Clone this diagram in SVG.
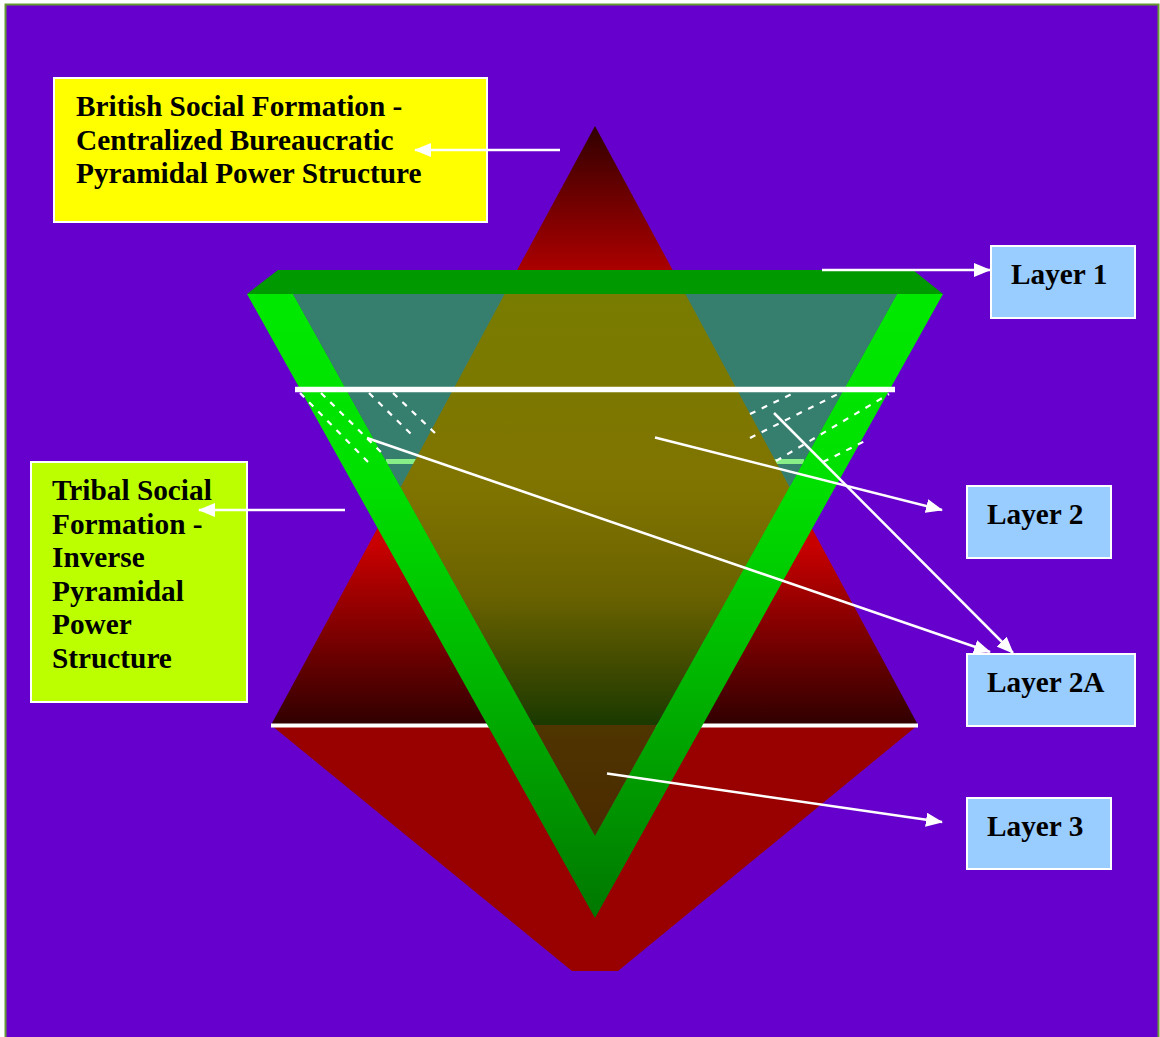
<svg xmlns="http://www.w3.org/2000/svg" width="1160" height="1037" viewBox="0 0 1160 1037">
<defs>
<style>
.lbl{font-family:"Liberation Serif","Times New Roman",serif;font-weight:bold;font-size:29.3px;fill:#000}
.box{stroke:#fff;stroke-width:2}
.layer{fill:#99CCFF}
.conn{stroke:#fff;stroke-width:2.5;fill:none}
.dash{stroke:#fff;stroke-width:2.2;stroke-dasharray:6 7;fill:none}
</style>
<marker id="ah" viewBox="0 0 17 14" refX="16" refY="7" markerWidth="17" markerHeight="14" markerUnits="userSpaceOnUse" orient="auto">
<path d="M0,0 L17,7 L0,14 z" fill="#fff"/>
</marker>
<linearGradient id="gRed" gradientUnits="userSpaceOnUse" x1="0" y1="126" x2="0" y2="725">
<stop offset="0" stop-color="#300000"/>
<stop offset="0.25" stop-color="#B00000"/>
<stop offset="0.55" stop-color="#CC0000"/>
<stop offset="0.7" stop-color="#C80000"/>
<stop offset="1" stop-color="#300000"/>
</linearGradient>
<linearGradient id="gOlive" gradientUnits="userSpaceOnUse" x1="0" y1="294" x2="0" y2="725">
<stop offset="0" stop-color="#787C00"/>
<stop offset="0.45" stop-color="#807400"/>
<stop offset="0.7" stop-color="#6A6200"/>
<stop offset="0.88" stop-color="#3C4800"/>
<stop offset="1" stop-color="#1A3A00"/>
</linearGradient>
<linearGradient id="gBrown" gradientUnits="userSpaceOnUse" x1="0" y1="725" x2="0" y2="836">
<stop offset="0" stop-color="#4F3500"/>
<stop offset="1" stop-color="#4A2A00"/>
</linearGradient>
<linearGradient id="gGreen" gradientUnits="userSpaceOnUse" x1="0" y1="294" x2="0" y2="918">
<stop offset="0" stop-color="#00E800"/>
<stop offset="0.3" stop-color="#00E000"/>
<stop offset="0.62" stop-color="#00B500"/>
<stop offset="1" stop-color="#007700"/>
</linearGradient>
</defs>
<rect x="0" y="0" width="1160" height="1037" fill="#fff"/>
<rect id="frame" x="5.5" y="4.5" width="1153" height="1040" fill="#6600CC" stroke="#669933" stroke-width="2"/>

<g id="british-pyramid">
<polygon points="595,126 271,725 918,725" fill="url(#gRed)"/>
<polygon points="271,725 918,725 618,971 572,971" fill="#990000"/>
<line x1="271" y1="725.5" x2="918" y2="725.5" stroke="#fff" stroke-width="4"/>
</g>

<g id="tribal-pyramid">
<polygon points="293,294 897,294 595,836" fill="#367E6E"/>
<line x1="386" y1="461.5" x2="804" y2="461.5" stroke="#88EE88" stroke-width="5"/>
<polygon points="504.6,294 685.4,294 789.6,487.3 657,725 533,725 400.6,487.3" fill="url(#gOlive)"/>
<polygon points="533,725 657,725 595,836" fill="url(#gBrown)"/>
<path d="M247,294 L943,294 L595,918 Z M293,294 L595,836 L897,294 Z" fill="url(#gGreen)" fill-rule="evenodd"/>
<polygon points="278,270 913,270 943,294 247,294" fill="#009900"/>
<line x1="295" y1="389.5" x2="895" y2="389.5" stroke="#fff" stroke-width="5.5"/>
<g id="dashes">
<line class="dash" x1="300" y1="393" x2="368" y2="462"/>
<line class="dash" x1="321" y1="393" x2="384" y2="455"/>
<line class="dash" x1="369" y1="393" x2="411" y2="434"/>
<line class="dash" x1="393" y1="393" x2="436" y2="434"/>
<line class="dash" x1="750" y1="414" x2="794" y2="393"/>
<line class="dash" x1="750" y1="438" x2="840" y2="393"/>
<line class="dash" x1="776" y1="461" x2="889" y2="394"/>
<line class="dash" x1="823" y1="462" x2="867" y2="440"/>
</g>
</g>

<g id="node-british">
<rect class="box" x="54" y="78" width="433" height="144" fill="#FFFF00"/>
<text class="lbl" x="76" y="116">British Social Formation -</text>
<text class="lbl" x="76" y="150">Centralized Bureaucratic</text>
<text class="lbl" x="76" y="183">Pyramidal Power Structure</text>
</g>

<g id="node-tribal">
<rect class="box" x="31" y="462" width="216" height="240" fill="#BBFF00"/>
<text class="lbl" x="52" y="500">Tribal Social</text>
<text class="lbl" x="52" y="533.5">Formation -</text>
<text class="lbl" x="52" y="567">Inverse</text>
<text class="lbl" x="52" y="600.5">Pyramidal</text>
<text class="lbl" x="52" y="634">Power</text>
<text class="lbl" x="52" y="668">Structure</text>
</g>

<g id="node-layer1">
<rect class="box layer" x="991" y="246" width="144" height="72"/>
<text class="lbl" x="1011" y="284">Layer 1</text>
</g>
<g id="node-layer2">
<rect class="box layer" x="967" y="486" width="144" height="72"/>
<text class="lbl" x="987" y="524">Layer 2</text>
</g>
<g id="node-layer2a">
<rect class="box layer" x="967" y="654" width="168" height="72"/>
<text class="lbl" x="987" y="692">Layer 2A</text>
</g>
<g id="node-layer3">
<rect class="box layer" x="967" y="798" width="144" height="71"/>
<text class="lbl" x="987" y="836">Layer 3</text>
</g>

<g id="connectors">
<line class="conn" x1="560" y1="150" x2="415" y2="150" marker-end="url(#ah)"/>
<line class="conn" x1="822" y1="270" x2="990" y2="270" marker-end="url(#ah)"/>
<line class="conn" x1="345" y1="510" x2="199" y2="510" marker-end="url(#ah)"/>
<line class="conn" x1="655" y1="437.5" x2="942" y2="510" marker-end="url(#ah)"/>
<line class="conn" x1="367" y1="438" x2="990" y2="652" marker-end="url(#ah)"/>
<line class="conn" x1="774" y1="413" x2="1013" y2="653" marker-end="url(#ah)"/>
<line class="conn" x1="607" y1="773.5" x2="942" y2="822" marker-end="url(#ah)"/>
</g>
</svg>
